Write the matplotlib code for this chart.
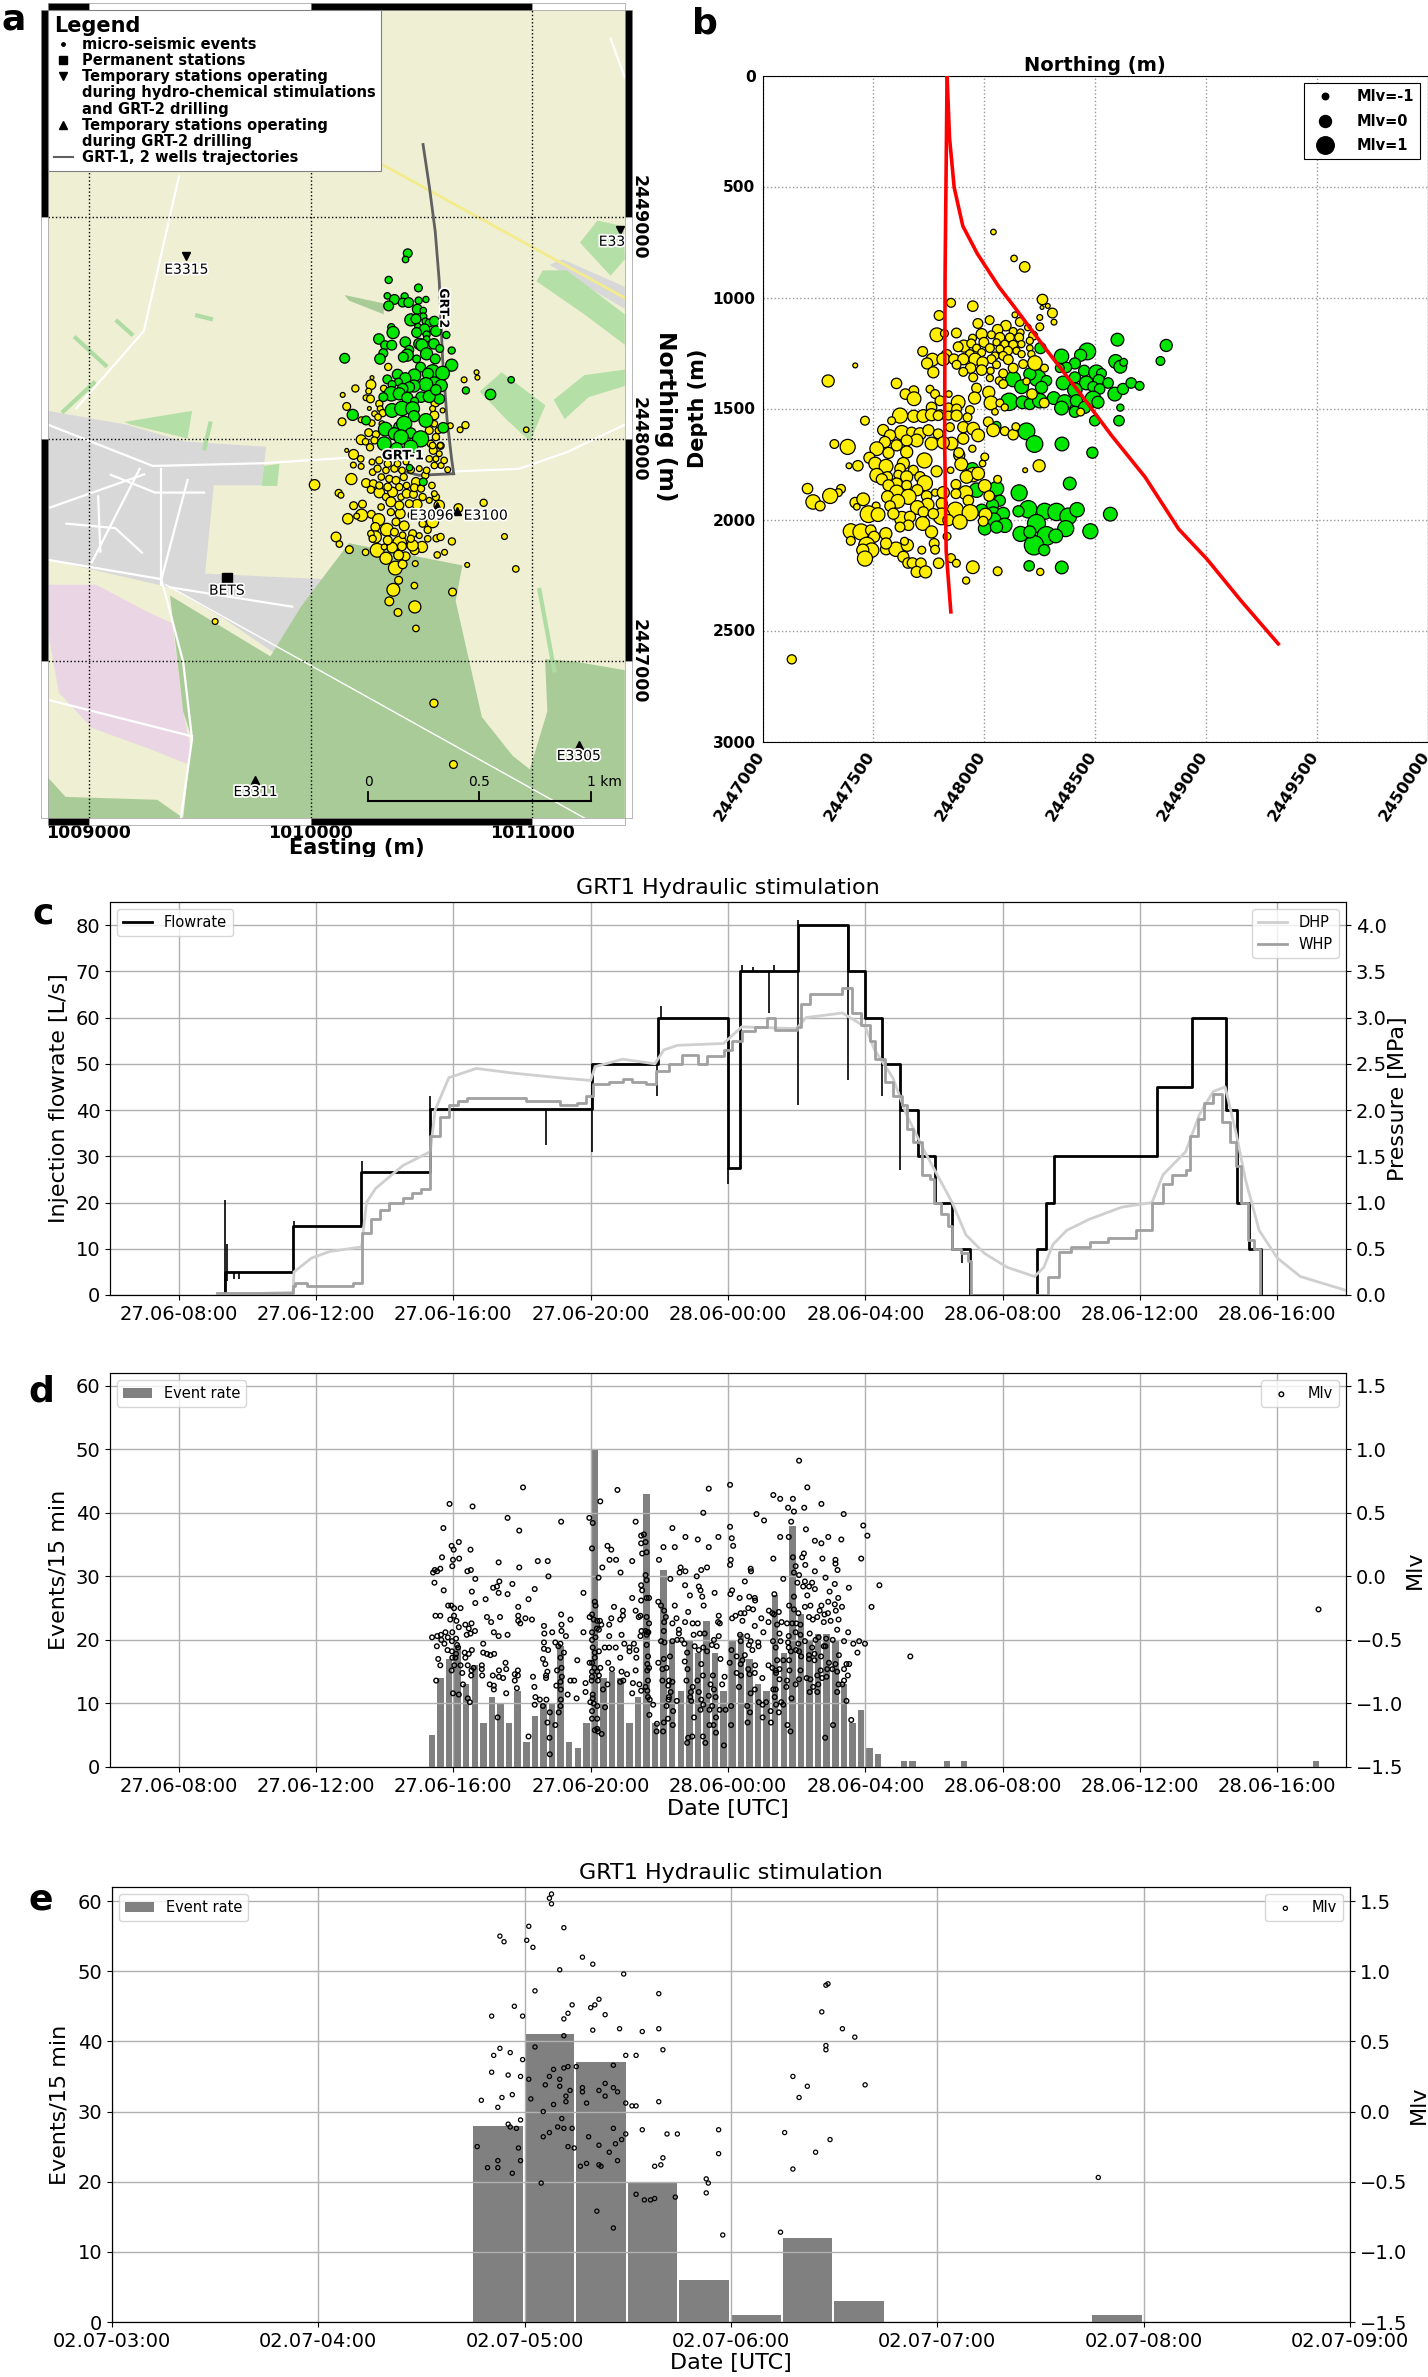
import numpy as np
import matplotlib
matplotlib.use('Agg')
import matplotlib.pyplot as plt
import matplotlib.patheffects as pe
from matplotlib.lines import Line2D
from matplotlib.patches import Polygon, Rectangle
from matplotlib.transforms import ScaledTranslation

W, H = 1428, 2377

# ---- panel a: map features (easting, northing in m)
forest = [(1010173,2447532),(1010684,2447432),(1010654,2447271),(1010772,2446749),(1010910,2446575),(1010988,2446513),
          (1011067,2446774),(1011057,2447010),(1011194,2446998),(1011416,2446960),(1011416,2446294),(1009426,2446294),
          (1009466,2446650),(1009426,2446774),(1009367,2447296),(1009819,2447022),(1009957,2447246)]
forest_sw = [(1008817,2446476),(1008896,2446389),(1009309,2446376),(1009426,2446294),(1008817,2446294)]
forest_n = [(1010153,2448650),(1010330,2448612),(1010330,2448563),(1010173,2448625)]
town = [(1008817,2448128),(1009171,2448066),(1009426,2447991),(1009800,2447966),(1009780,2447793),(1009564,2447793),
        (1009525,2447395),(1010055,2447370),(1009859,2447022),(1009603,2447196),(1009367,2447333),(1008876,2447445),(1008817,2447457)]
town_ne = [(1011077,2448786),(1011416,2448588),(1011416,2448687),(1011136,2448811)]
pink = [(1008817,2447345),(1009033,2447345),(1009269,2447221),(1009377,2447171),(1009426,2446774),(1009475,2446525),
        (1009289,2446600),(1009014,2446700),(1008866,2446860),(1008817,2447134)]
meadows = [
    [(1010762,2448215),(1010861,2448302),(1011058,2448153),(1010989,2447991),(1010881,2448091)],
    [(1011018,2448712),(1011234,2448563),(1011416,2448426),(1011416,2448563),(1011155,2448761),(1011047,2448761)],
    [(1011214,2448886),(1011293,2448985),(1011411,2448960),(1011416,2448811),(1011352,2448737)],
    [(1011096,2448178),(1011234,2448289),(1011416,2448314),(1011416,2448240),(1011253,2448190),(1011145,2448091)],
    [(1009161,2448078),(1009466,2448128),(1009446,2448004),(1009191,2448066)],
    [(1009790,2447880),(1009860,2447890),(1009850,2447790),(1009780,2447790)],
]
strips = [
    [(1008935,2448463),(1009083,2448327)],
    [(1009122,2448538),(1009200,2448468)],
    [(1008880,2448120),(1009030,2448260)],
    [(1009550,2448080),(1009520,2447950)],
    [(1011030,2447330),(1011100,2446950)],
    [(1009560,2448540),(1009480,2448560)],
]
roads = [
    [(1008817,2448066),(1009289,2447880),(1009780,2447892),(1010173,2447917),(1010644,2447855),(1010939,2447867),(1011155,2447942),(1011416,2448066)],
    [(1008817,2447457),(1009328,2447370),(1009426,2446998),(1009466,2446650),(1009416,2446294)],
    [(1008945,2448140),(1009249,2448488),(1009407,2449184)],
    [(1009328,2447867),(1009328,2447345)],
    [(1008827,2446824),(1009466,2446662)],
    [(1011352,2449805),(1011416,2449631)],
    [(1008827,2447693),(1009250,2447842)],
    [(1009043,2447743),(1009053,2447494)],
    [(1009230,2447867),(1009014,2447445)],
    [(1009446,2447817),(1009328,2447370)],
    [(1009367,2447333),(1009917,2447246)],
    [(1009100,2447840),(1009300,2447760),(1009520,2447760)],
    [(1008900,2447620),(1009120,2447600),(1009240,2447490)],
]
road_thin = [(1009348,2447345),(1011234,2446294)]
road_yellow = [(1010330,2449234),(1011416,2448637)]

well_grt2_a = [(1010507,2449328),(1010536,2449134),(1010562,2448935),(1010580,2448712),(1010595,2448364),(1010615,2448091),(1010635,2447917),(1010645,2447845)]
well_grt1_a = [(1010645,2447845),(1010490,2447838),(1010385,2447863)]

bets = (1009623, 2447375)
stations_down = [('E3315', 1009440, 2448824), ('E33', 1011395, 2448945)]
stations_up = [('E3311', 1009752, 2446463), ('E3305', 1011208, 2446625), ('E3100', 1010658, 2447676), ('E3096', 1010572, 2447698)]

# events panel a: east - 1010000, north - 2448000, Mlv
green_a = [(438,838,-.85),(428,810,-1.2),(352,718,-1.1),(486,682,-1),(346,646,-1.2),(378,630,-.7),(424,644,-1.1),(415,616,-.85),
(442,616,-.7),(487,625,-1.1),(520,630,-1.25),(352,601,-.7),(481,586,-.7),(508,580,-1.2),(508,553,-1.1),(452,538,-.35),(475,542,-.7),
(517,532,-1.2),(535,524,-1),(558,532,-.7),(364,505,-1.1),(372,481,-.35),(484,508,-1.2),(514,496,-.6),(478,481,-.7),(565,487,-.6),
(612,470,-1.1),(523,472,-1.1),(308,452,-.6),(427,438,-.6),(523,452,-1.2),(336,424,-.85),(366,424,-.7),(556,430,-.6),(490,430,-.5),
(502,424,-.35),(582,409,-1),(636,400,-1.1),(445,403,-.85),(328,388,-.85),(436,379,-.35),(523,385,-.35),(418,370,-.7),(313,362,-.6),
(154,365,-.7),(562,362,-.7),(478,362,-1),(636,334,-.35),(496,325,-.7),(550,302,.1),(595,298,-.1),(392,292,-.6),(468,288,-.25),
(427,275,-.5),(346,270,-.85),(529,295,-.5),(396,258,-1),(558,250,-.1),(520,247,-.1),(367,247,-1),(589,242,-.35),(466,240,-.35),
(445,235,-.6),(580,182,-.6),(415,228,-.6),(364,205,0),(400,205,-.35),(328,190,-.85),(436,187,-.5),(498,190,-.6),(535,193,-.35),
(565,223,-.6),(469,172,-1),(367,130,-.1),(412,139,0),(460,138,-.1),(466,104,-.5),(190,110,-.5),(250,85,-.85),(520,85,-.1),(337,46,-.1),
(400,55,-.5),(422,70,.1),(378,25,-.35),(452,28,-.6),(408,10,0),(496,2,.25),(332,-20,-.1),(598,52,-.6),(700,220,-1.1),(811,202,-.6),
(904,268,-1.2),(452,-35,-.1),(388,-42,-.35),(446,-128,-1.2),(508,-192,-1)]
yellow_a = [(350,326,-1.1),(692,268,-1.3),(748,302,-1.45),(752,278,-1.45),(277,278,-1.6),(272,246,-.7),(202,229,-1.1),(145,200,-1.45),
(330,229,-1.2),(262,217,-1.3),(250,187,-1.3),(270,182,-1),(163,148,-1),(310,160,-1.1),(314,138,-1.3),(325,118,-1.1),(265,139,-1.6),
(289,115,-1.3),(304,100,-1.2),(228,88,-1.3),(142,79,-1),(276,73,-1.2),(322,70,-1.3),(630,61,-1.3),(674,43,-1.3),(698,64,-1.1),
(558,108,-.85),(562,166,-.85),(595,130,-1.45),(550,138,-1.3),(558,70,-1.2),(535,40,-1),(262,30,-1),(295,22,-1.1),(228,-2,-.7),
(248,-11,-1.2),(268,-36,-1.1),(288,-5,-1.1),(576,40,-1.2),(565,10,-1.1),(586,-29,-1.1),(542,-20,-1.1),(553,-50,-1),
(163,-50,-1.6),(194,-68,-.7),(226,-88,-1.2),(193,-116,-1.3),(228,-122,-1.3),(184,-179,-.5),(127,-242,-1.1),(250,-197,-.85),
(283,-200,-1),(272,-227,-1.1),(310,-240,-.6),(194,-299,-1),(234,-292,-1),(230,-342,-.35),(208,-346,-1.3),(168,-358,-.6),(274,-338,-1),
(307,-362,-.35),(292,-395,-.85),(344,-407,-.25),(115,-440,-.7),(130,-472,-1.2),(292,-440,-.35),(175,-497,-1),(248,-509,-1.2),
(300,-500,-.1),(340,-536,-.35),(382,-580,-.1),(402,-467,-.1),(368,-488,-.6),(415,-563,-.85),(397,-635,-1),(373,-678,-.25),
(468,-659,-1.2),(355,-730,-.85),(470,-755,-.35),(394,-780,-1),(475,-852,-1.2),(640,-688,-1),(472,-560,-1.3),(571,-521,-1.2),
(604,-509,-1.3),(637,-460,-1.1),(568,-446,-1.1),(586,-440,-1.1),(706,-566,-1.45),(874,-438,-1.3),(925,-584,-1.2),(780,-286,-1.1),
(666,-310,-.85),(550,-371,-.35),(528,-408,-1.1),(502,-485,-.5),(469,-500,-.85),(460,-478,-.5),(428,-527,-.85),(412,-482,-.85),
(397,-522,-.7),(332,-485,-1.3),(348,-455,-.85),(272,-425,-1.2),(280,-448,-1.1),(318,-305,-1.2),(362,-328,-1.1),(404,-335,-.7),
(460,-342,-.85),(422,-390,-.7),(385,-372,-1),(505,-380,-1.1),(460,-425,-1),(490,-434,-1.3),(528,-448,-1.2),(378,-418,-1),(415,-432,-1.2),
(452,-448,-1.1),(340,-260,-1.1),(370,-238,-.7),(408,-260,-1.2),(433,-245,-.85),(464,-248,-1),(505,-260,-1.1),(535,-275,-1.3),
(565,-260,-1.1),(580,-298,-.6),(480,-293,-.7),(445,-290,-1),(362,-282,-.7),(400,-298,-.85),(319,-170,-1.2),(355,-178,-1.1),(385,-185,-1),
(420,-170,-1.1),(475,-192,-.85),(517,-162,-1.1),(547,-208,-1.2),(558,-245,-1.3),(310,-208,-1.1),(348,-215,-1),(400,-215,-1.1),
(433,-208,-1.2),(468,-218,-1),(498,-222,-1.1),(280,-148,-1.2),(302,-132,-1.1),(340,-140,-1.2),(378,-132,-1.1),(412,-140,-1.2),
(452,-137,-1.1),(490,-132,-1.3),(523,-140,-1.2),(558,-118,-1.2),(588,-118,-1.3),(618,-137,-1.3),(602,-95,-1.2),(565,-88,-1.3),
(535,-88,-1.2),(580,-65,-1.3),(550,-28,-1.2),(585,-28,-1.3),(348,-110,-1.1),(310,-95,-1.1),(392,-110,-1.2),(430,-102,-1.3),(277,-102,-1.3),
(-430,-821,-1.3),(556,-1189,-.95),(644,-1465,-1),(18,-205,-.6),(137,-252,-1.3),(972,43,-1.35)]

# ---- panel b: north - 2447000, depth, Mlv
yellow_b = [(1182,862,-.6),(1041,705,-1.35),(1134,824,-1.2),(1262,1009,-.6),(1286,1038,-1.45),(1260,1045,-1.6),(1307,1070,-.7),(1250,1090,-1.3),
(1314,1111,-1.3),(1250,1132,-1),(850,1024,-.85),(948,1039,-.6),(796,1081,-.7),(1024,1102,-.85),(971,1117,-.7),(1138,1078,-1.3),(1160,1110,-.85),
(1196,1135,-1.2),(786,1168,-.1),(820,1162,-1),(874,1160,-.7),(1097,1127,-.6),(1060,1145,-.6),(1130,1153,-1),(1163,1158,-1.1),(988,1165,-.5),
(1032,1168,-1),(1070,1180,-.7),(1115,1180,-.85),(1157,1180,-.85),(1220,1172,-.85),(947,1183,-1),(998,1202,-.7),(1055,1202,-1.1),(1092,1210,-1),
(1130,1213,-.85),(1167,1210,-1.1),(1205,1195,-1.1),(908,1219,-.35),(941,1207,-.85),(882,1222,-.7),(965,1228,-1),(1025,1228,-.85),(1070,1232,-1),
(1107,1240,-.85),(1145,1240,-1.1),(1205,1228,-1.2),(722,1243,-.7),(830,1258,-.6),(988,1248,-1),(935,1255,-.85),(1048,1263,-1),(1085,1263,-.85),
(1168,1255,-1.1),(1212,1255,-1.1),(766,1280,-.25),(742,1297,-.5),(815,1278,-.25),(863,1278,-.6),(905,1278,-.5),(958,1278,-.35),(1032,1278,-.85),
(1108,1280,-.7),(1228,1295,0),(1175,1300,-.85),(992,1292,-.5),(875,1303,-.85),(938,1318,-.6),(1055,1303,-1),(1130,1318,-.7),(1271,1318,-1),
(770,1337,-.5),(905,1335,-.85),(988,1327,-.6),(1028,1330,-1.1),(1085,1342,-.85),(950,1360,-.85),(1025,1363,-1.1),(1067,1375,-1),(1085,1390,-.85),
(1190,1378,-1.1),(965,1408,-.7),(296,1376,-.35),(418,1306,-1.45),(604,1387,-.6),(682,1420,-.7),(644,1435,-.6),(683,1456,-.1),(755,1413,-1),
(778,1435,-.85),(800,1465,-.7),(840,1435,-1.2),(882,1472,-.1),(956,1453,-.35),(1020,1427,-.35),(1030,1475,-.1),(1070,1475,-1),(1092,1495,-1.1),
(1215,1435,-.6),(1270,1475,-.7),(1434,1516,-1),(1048,1515,-1.2),(838,1495,-.85),(875,1502,-.7),(935,1507,-.85),(762,1495,-.6),(800,1528,-.7),
(620,1532,.1),(682,1535,-.35),(725,1534,-.25),(762,1528,-.35),(792,1532,-.7),(838,1532,-.85),(875,1532,-.5),(924,1540,-.85),(462,1555,-.85),
(582,1555,-1),(1018,1560,-.7),(544,1597,-.5),(628,1609,0),(672,1606,-.7),(710,1614,-.35),(748,1598,-.5),(792,1614,-.7),(845,1584,-.85),
(905,1584,-.5),(950,1591,-.25),(972,1621,-.25),(1040,1598,-.25),(1092,1602,-.85),(1130,1618,-.6),(1142,1582,-1),(905,1636,-.5),(852,1658,-.25),
(762,1658,-.25),(815,1654,-.35),(695,1644,-.25),(650,1644,-.5),(575,1621,-.5),(552,1651,-.5),(515,1681,-.1),(605,1666,-.5),(650,1696,-.35),
(568,1700,-.5),(324,1660,-.85),(384,1673,.1),(482,1722,-.5),(508,1748,-.25),(390,1758,-1.3),(430,1758,-.6),(557,1760,-.1),(730,1734,.1),
(680,1778,-.7),(635,1748,-.35),(620,1771,-.6),(515,1801,-.1),(563,1808,-.6),(612,1798,-.85),(538,1819,-.5),(650,1808,-.35),(710,1808,-.6),
(785,1783,-.5),(887,1711,-.5),(885,1699,-.7),(946,1681,-1.1),(896,1751,-.25),(848,1778,-1.2),(1002,1718,-1),(992,1748,-1.2),(1247,1758,-.35),
(1184,1778,-1.45),(950,1798,0),(920,1808,-.25),(972,1793,-.25),(872,1842,-.7),(1060,1819,-1),(1002,1849,-.25),(732,1836,.1),(605,1838,-.5),
(568,1846,-.5),(650,1846,-.7),(203,1861,-.6),(354,1862,-.85),(342,1879,-1),(305,1894,.1),(228,1921,0),(260,1939,-.7),(418,1924,-.6),(454,1909,-.25),
(425,1943,-1.2),(605,1876,-.1),(698,1868,-.5),(778,1879,-1.1),(815,1879,-.35),(916,1879,-.1),(872,1884,-.7),(1022,1894,-.6),(564,1898,-.35),
(658,1898,.1),(740,1894,-.6),(610,1918,-.1),(744,1933,-.25),(698,1946,-.1),(808,1928,-.5),(928,1914,-.6),(575,1939,-.6),(512,1939,-1),
(870,1958,.25),(936,1969,.25),(808,1986,.35),(1005,1978,-.25),(478,1976,.35),(521,1978,-.1),(628,1996,0),(665,1988,-.5),(725,1966,-.6),
(770,1974,-.6),(590,1974,-.5),(838,2003,-.5),(890,2011,0),(995,2008,-.7),(722,2018,-.1),(658,2026,-.6),(620,2034,-.7),(762,2056,-.35),
(832,2076,-1),(398,2053,.1),(444,2056,.25),(488,2048,-.6),(556,2064,-.35),(398,2096,-.85),(503,2078,-.5),(470,2116,.25),(492,2138,0),
(452,2138,-.35),(557,2134,-.5),(602,2134,0),(557,2108,-.5),(653,2116,-.35),(640,2098,-1),(718,2138,-1),(774,2108,-.7),(778,2136,-.85),
(462,2176,.1),(635,2168,-.5),(656,2196,-.6),(676,2196,-.6),(714,2197,-.6),(695,2236,-.5),(735,2236,-.35),(794,2197,-.6),(850,2174,-.85),
(874,2197,-1),(948,2215,-.25),(1060,2233,-.85),(918,2275,-1.1),(1252,2236,-1.1),(132,2630,-.8)]
green_b = [(1600,1190,-.25),(1820,1216,-.35),(1794,1286,-.85),(1464,1243,.35),(1434,1260,-.35),(1348,1265,0),(1408,1297,-.5),(1253,1228,-.5),
(1370,1315,-.6),(1340,1318,-.85),(1592,1288,-.1),(1613,1312,-.25),(1628,1292,-1),(1450,1330,-.5),(1505,1338,.1),(1528,1342,-.7),(1240,1363,.35),
(1130,1368,.1),(1168,1402,-.1),(1205,1345,-.35),(1280,1375,-.6),(1258,1405,-.35),(1355,1385,-.1),(1408,1360,-.5),(1460,1385,-.1),(1516,1372,-.5),
(1558,1385,-.6),(1490,1402,-.6),(1408,1417,0),(1520,1412,-.6),(1588,1435,-.1),(1625,1412,-.5),(1662,1385,-.6),(1700,1398,-.85),(1112,1470,.45),
(1172,1472,-.25),(1205,1480,-.5),(1250,1465,0),(1313,1453,-.25),(1362,1472,.1),(1348,1498,-.1),(1415,1465,-.35),(1408,1515,-.5),(1490,1458,.25),
(1452,1495,-.35),(1512,1472,-.35),(1613,1496,-1.1),(1607,1555,-.6),(1498,1555,-.6),(1055,1578,-.85),(1190,1603,.35),(1226,1660,.35),(1350,1660,-.1),
(1487,1699,-.5),(946,1771,-.35),(1385,1838,-.25),(1055,1861,0),(965,1868,0),(1157,1880,.25),(1070,1915,-.5),(1198,1954,.45),(1272,1963,.25),
(1325,1966,.45),(1378,1986,.35),(1418,1956,0),(1568,1976,-.1),(1154,1963,-.5),(1037,1936,-.35),(988,1958,-.35),(1040,1974,-.1),(1085,1974,-.25),
(1043,2003,0),(1092,2026,0),(1002,2041,-.25),(1055,2034,-.35),(1235,2018,.55),(1367,2041,.25),(1163,2065,.1),(1478,2053,.1),(1280,2074,.65),
(1322,2074,-.1),(1224,2116,.75),(1270,2138,-.5),(1202,2209,-.6),(1349,2216,-.25),(1205,2056,-.35)]
well_1_north = [2447832,2447823,2447821,2447828,2447849]
well_1_depth = [0,900,1646,2143,2416]
well_2_north = [2447832,2447843,2447864,2447903,2447968,2448065,2448141,2448271,2448444,2448573,2448724,2448876,2449005,2449157,2449325]
well_2_depth = [0,280,504,678,802,951,1050,1224,1448,1621,1808,2043,2180,2366,2560]

# ---- panel c: hours since 27.06 00:00
flow_t = [9.36,11.33,13.3,15.33,20.05,21.95,24.0,24.35,26.03,27.5,28.0,28.5,29.0,29.52,30.03,30.53,31.04,32.99,33.25,33.5,36.5,37.52,38.5,38.83,39.17,39.52]
flow_v = [5,15,26.5,40.2,50,60,27.5,70,80,70,60,50,40,30,20,10,0,10,20,30,45,60,40,20,10,0]
spike_t = [9.36,9.42,9.6,9.75,11.35,13.33,15.33,18.7,20.05,22.05,21.93,24.0,24.4,24.73,25.2,25.35,26.05,26.05,27.5,28.5,29.0,30.83]
spike_lo = [0,3,3.5,3.5,15,26.5,40,32.5,31,60,43,24,70,70,61,70,41,80,46.5,43,27,7]
spike_hi = [20.5,11,5,5,16,29,43,40,50,62.5,50,27.5,71.3,71,70,71.3,70,81,80,50,40,10]
whp_t = [9.12,11.33,11.4,11.73,12.13,13.07,13.33,13.6,13.87,14.13,14.53,14.8,15.07,15.33,15.6,15.87,16.13,16.4,18.13,19.12,19.6,19.87,20.08,20.53,20.93,21.2,
         21.6,21.9,22.27,22.67,23.12,23.39,23.87,24.13,24.4,24.8,25.15,25.36,26.0,26.13,26.4,27.33,27.6,27.87,28.13,28.27,28.56,28.8,29.07,29.2,29.39,29.65,29.87,
         30.0,30.19,30.4,30.53,30.8,30.99,31.07,33.33,33.65,34.0,34.53,35.07,35.87,36.35,36.67,36.93,37.33,37.47,37.68,37.87,38.13,38.4,38.61,38.8,38.93,39.15,39.33,39.49]
whp_p = [0.02,0.1,0.125,0.1,0.1,0.125,.67,.82,.92,1.0,1.05,1.1,1.15,1.72,1.92,2.05,2.1,2.13,2.1,2.05,2.08,2.15,2.28,2.3,2.34,2.3,
         2.28,2.42,2.5,2.6,2.5,2.58,2.65,2.75,2.85,2.9,3.0,2.87,2.9,3.15,3.25,3.32,3.05,2.92,2.75,2.55,2.3,2.15,2.05,1.8,1.65,1.3,1.25,
         1.0,.88,.75,.5,.45,.37,0,.2,.47,.52,.57,.62,.7,1.0,1.2,1.3,1.35,1.72,1.9,2.08,2.17,1.87,1.65,1.4,1.0,.6,.5,0]
dhp_t = [9.12,11.33,11.36,11.87,12.4,13.33,13.47,13.73,14.53,15.33,15.47,15.87,16.67,17.73,19.07,20,20.13,20.93,21.87,22.13,22.53,23.87,24.4,26.0,26.27,27.33,28,
         28.27,28.8,29.2,29.73,30.53,30.93,31.47,32.13,32.93,33.2,33.47,33.87,34.53,35.47,36.35,36.67,37.33,37.73,38.13,38.48,38.8,39.07,39.47,40,40.67,42]
dhp_p = [0,.03,.25,.4,.47,.52,1.0,1.15,1.4,1.55,2.0,2.35,2.45,2.4,2.35,2.32,2.47,2.55,2.5,2.65,2.7,2.72,2.9,2.88,3.0,3.05,2.9,
         2.65,2.35,1.95,1.55,1.0,.65,.45,.3,.2,.3,.55,.7,.82,.95,1.0,1.3,1.55,1.95,2.2,2.25,1.75,1.25,.7,.4,.2,.05]
hour_ticks = [8,12,16,20,24,28,32,36,40]
hour_labels = ['27.06-08:00','27.06-12:00','27.06-16:00','27.06-20:00','28.06-00:00','28.06-04:00','28.06-08:00','28.06-12:00','28.06-16:00']

# ---- panel d: 15 min event counts and Mlv
rate_d_t = list(np.arange(15.375, 28.5, 0.25)) + [29.125,29.375,30.375,30.875,41.125]
rate_d = [5,14,17,19,13,16,7,11,10,7,12,4,8,10,10,19,4,3,7,50,14,15,14,7,11,
          43,7,31,20,12,20,18,23,18,12,20,21,17,13,12,27,18,38,24,20,21,21,20,13,7,9,3,2,1,1,1,1,1]
mlv_d = [(15.89,.57),(16.56,.55),(18.03,.7),(15.71,.38),(17.58,.46),(17.92,.36),(19.14,.43),(19.96,.46),(20.06,.42),(20.28,.59),(20.78,.68),(21.31,.43),
(16.16,.27),(15.95,.24),(16.01,.21),(16.5,.21),(20.04,.22),(20.49,.24),(20.6,.21),(15.67,.15),(15.99,.13),(16.17,.14),(17.32,.11),(18.46,.12),(18.75,.12),
(20.55,.13),(20.74,.13),(21.21,.12),(15.97,.08),(17.92,.07),(20.34,.07),(15.62,.06),(15.46,.05),(15.53,.04),(15.41,.03),(16.41,.04),(16.51,.05),(20.87,.03),
(18.77,0),(16.64,-.02),(20.23,-.01),(15.45,-.05),(17.34,-.04),(17.27,-.08),(17.16,-.09),(17.72,-.06),(18.37,-.1),(15.72,-.11),(16.54,-.12),(17.32,-.13),
(17.58,-.14),(19.79,-.13),(16.94,-.18),(18.19,-.18),(21.21,-.17),(16.64,-.21),(20.12,-.2),(15.85,-.23),(15.94,-.23),(16.02,-.25),(16.21,-.25),(17.89,-.24),
(20.14,-.23),(20.68,-.24),(20.94,-.27),(21.31,-.27),(15.48,-.31),(15.62,-.31),(16.02,-.31),(19.14,-.3),(20.04,-.3),(19.97,-.32),(20.94,-.31),(16.98,-.32),
(17.36,-.32),(17.89,-.31),(17.89,-.35),(18.1,-.33),(18.29,-.34),(19.41,-.34),(20.6,-.33),(21.4,-.32),(15.91,-.34),(16.09,-.35),(17.1,-.36),(17.95,-.37),
(20.09,-.34),(20.19,-.35),(20.31,-.38),(20.27,-.35),(19.15,-.38),(18.64,-.39),(20.54,-.38),(20.86,-.34),(16.16,-.4),(16.35,-.38),(16.53,-.37),(16.45,-.41),
(16.63,-.43),(16.5,-.45),(16.39,-.46),(17.18,-.44),(17.32,-.47),(17.58,-.46),(18.65,-.45),(18.88,-.44),(19.15,-.43),(19.28,-.47),(19.79,-.44),(20.04,-.44),
(20.24,-.42),(20.18,-.41),(20.9,-.46),(20.54,-.47),(15.38,-.48),(15.53,-.47),(15.64,-.46),(15.77,-.44),(15.97,-.44),(15.84,-.48),(16.08,-.49),(20.14,-.48),
(15.65,-.5),(15.74,-.53),(15.96,-.51),(16.11,-.54),(16.87,-.53),(18.64,-.52),(18.97,-.52),(19.12,-.53),(20.04,-.5),(21.26,-.53),(20.98,-.53),(15.52,-.55),
(16.14,-.56),(15.83,-.58),(15.96,-.59),(16.54,-.58),(18.64,-.57),(18.76,-.58),(19.06,-.55),(20.06,-.56),(20.41,-.56),(20.54,-.56),(20.73,-.56),(21.13,-.56),
(21.33,-.58),(21.13,-.59),(16.33,-.6),(16.87,-.6),(16.98,-.61),(17.08,-.62),(17.19,-.61),(16.45,-.61),(16.08,-.61),(19.22,-.6),(20.12,-.6),(20.24,-.59),
(16.06,-.64),(16.35,-.64),(15.97,-.64),(19.12,-.64),(18.61,-.65),(19.61,-.66),(20.12,-.64),(20.04,-.68),(20.86,-.64),(21.33,-.64),(15.56,-.65),(18.68,-.69),
(19.97,-.68),(20.51,-.68),(17.52,-.68),(15.62,-.7),(16.03,-.7),(16.21,-.7),(16.42,-.7),(16.59,-.72),(16.83,-.7),(16.83,-.73),(17.54,-.73),(19.15,-.72),
(20.11,-.72),(20.28,-.72),(20.62,-.73),(21.31,-.74),(16.53,-.74),(15.95,-.74),(16.26,-.76),(17.88,-.74),(19.02,-.74),(18.74,-.75),(20.04,-.75),(20.19,-.75),
(17.33,-.74),(16.84,-.78),(17.79,-.77),(17.15,-.78),(17.88,-.78),(16.52,-.78),(18.7,-.78),(20.9,-.75),(21.06,-.77),(20.04,-.79),(20.24,-.78),(19.16,-.79),
(18.32,-.79),(18.7,-.8),(17.33,-.79),(17.45,-.8),(15.5,-.82),(20.95,-.82),(17.79,-.82),(19.41,-.82),(19.52,-.82),(19.12,-.83),(20.03,-.82),(20.21,-.82),
(20.86,-.83),(21.23,-.84),(16.28,-.85),(17.06,-.85),(20.49,-.85),(19.85,-.84),(17.18,-.86),(19.0,-.86),(18.36,-.87),(17.85,-.88),(17.18,-.89),(19.13,-.89),
(20.36,-.89),(19.85,-.91),(15.99,-.92),(16.16,-.93),(17.54,-.92),(19.33,-.93),(20.06,-.93),(21.21,-.92),(18.39,-.95),(18.52,-.97),(18.71,-.97),(16.42,-.96),
(19.13,-.97),(19.59,-.96),(20.06,-.96),(16.48,-.99),(19.99,-.99),(20.09,-1.0),(18.37,-1.01),(18.61,-1.02),(19.12,-1.02),(20.19,-1.02),(20.42,-1.03),
(20.04,-1.06),(19.07,-1.07),(18.81,-1.07),(17.29,-1.11),(20.04,-1.12),(20.19,-1.12),(18.74,-1.15),(18.97,-1.17),(20.19,-1.2),(20.12,-1.21),(20.21,-1.22),
(20.32,-1.24),(18.19,-1.26),(18.8,-1.27),(18.81,-1.4),
(21.47,.32),(21.47,.26),(21.5,.18),(21.47,-.07),(21.5,-.11),(21.47,-.19),(21.45,-.31),(21.48,-.43),(21.45,-.47),(21.42,-.85),(21.47,-.9),
(21.55,.33),(21.6,.27),(21.63,.19),(21.6,.01),(21.63,-.03),(21.63,-.17),(21.7,-.17),(21.63,-.32),(21.7,-.37),(21.65,-.44),(21.6,-.43),(21.63,-.46),(21.63,-.54),
(21.67,-.63),(21.65,-.69),(21.7,-.72),(21.65,-.74),(21.67,-.82),(21.6,-.87),(21.65,-.9),(21.67,-.95),(21.72,-.97),
(26.07,.91),(24.06,.72),(23.44,.69),(26.31,.7),(25.32,.64),(25.52,.61),(25.89,.61),(26.72,.57),(25.75,.54),(26.22,.54),(25.92,.51),(23.28,.5),(24.83,.49),
(27.37,.49),(25.05,.44),(25.84,.43),(27.94,.4),(24.06,.39),(22.38,.38),(26.27,.37),(28.06,.32),(22.76,.31),(23.72,.31),(25.52,.31),(25.77,.31),(26.92,.31),
(23.12,.29),(24.11,.3),(27.3,.29),(26.53,.28),(26.72,.26),(24.15,.24),(22.12,.23),(22.45,.23),(23.44,.23),(26.21,.18),(26.16,.15),(21.99,.13),(24.08,.13),
(25.32,.14),(25.89,.15),(26.75,.14),(27.13,.13),(27.88,.14),(24.06,.09),(26.25,.09),(27.13,.1),(25.97,.08),(22.62,.07),(23.39,.07),(23.22,.05),(24.66,.06),
(22.59,.03),(22.76,.04),(24.67,.04),(26.53,.04),(27.19,.05),(25.92,.03),(23.09,0),(26.07,.01),(26.84,-.01),(22.32,-.02),(25.61,-.02),(24.49,-.04),(26.02,-.05),
(26.24,-.04),(26.45,-.05),(27.11,-.06),(28.41,-.07),(22.75,-.07),(23.15,-.08),(26.19,-.08),(26.36,-.08),(27.52,-.09),(23.2,-.11),(24.12,-.11),(26.53,-.1),
(26.96,-.12),(23.61,-.13),(24.07,-.14),(22.89,-.15),(23.25,-.16),(25.35,-.14),(26.31,-.15),(25.92,-.16),(24.34,-.17),(24.62,-.16),(24.78,-.17),(27.21,-.17),
(24.79,-.19),(26.92,-.2),(21.97,-.2),(22.05,-.23),(22.45,-.23),(23.29,-.23),(25.78,-.23),(26.24,-.24),(26.4,-.23),(26.72,-.23),(27.11,-.22),(27.32,-.24),
(28.18,-.24),(24.59,-.25),(24.73,-.26),(25.92,-.26),(22.14,-.27),(22.84,-.28),(25.19,-.27),(25.48,-.28),(26.05,-.29),(26.67,-.27),(27.14,-.27),(23.73,-.31),
(24.22,-.31),(24.37,-.29),(24.48,-.29),(25.29,-.29),(25.34,-.3),(26.91,-.29),(26.81,-.3),(22.19,-.32),(22.5,-.33),(24.12,-.33),(24.97,-.33),(26.36,-.32),
(26.6,-.32),(27.22,-.34),(26.47,-.34),(22.14,-.36),(22.38,-.37),(22.75,-.36),(22.97,-.37),(23.12,-.37),(23.71,-.36),(23.76,-.37),(24.42,-.35),(25.18,-.36),
(25.72,-.37),(25.87,-.37),(25.99,-.37),(26.79,-.36),(26.99,-.35),(25.43,-.38),(25.56,-.36),(24.78,-.39),(26.11,-.38),(22.57,-.42),(25.03,-.44),(25.97,-.44),
(27.18,-.42),(27.5,-.44),(22.13,-.43),(22.57,-.45),(23.0,-.46),(23.18,-.45),(23.32,-.45),(23.73,-.47),(24.35,-.46),(24.56,-.47),(25.5,-.45),(25.77,-.47),
(26.11,-.46),(26.38,-.45),(26.64,-.48),(26.86,-.49),(21.68,-.44),(22.52,-.5),(22.65,-.5),(22.38,-.51),(23.59,-.5),(24.37,-.51),(24.66,-.51),(25.31,-.51),
(25.53,-.51),(26.24,-.51),(26.55,-.5),(27.05,-.5),(27.38,-.51),(27.82,-.51),(27.99,-.53),(27.65,-.53),(25.75,-.52),(26.05,-.53),(22.05,-.51),(22.15,-.52),
(22.73,-.53),(23.53,-.54),(23.03,-.55),(23.67,-.55),(24.88,-.52),(24.89,-.55),(24.61,-.54),(25.77,-.56),(26.45,-.56),(26.79,-.55),(26.84,-.55),(23.28,-.56),
(24.1,-.58),(24.71,-.58),(25.39,-.56),(25.83,-.59),(25.98,-.58),(26.07,-.59),(26.36,-.62),(26.52,-.61),(22.81,-.6),(23.15,-.58),(23.39,-.59),(27.77,-.6),
(27.23,-.62),(22.31,-.63),(24.25,-.63),(24.49,-.62),(26.13,-.63),(26.71,-.63),(22.13,-.65),(23.78,-.65),(24.42,-.66),(25.43,-.66),(25.61,-.66),(25.78,-.66),
(26.36,-.65),(26.52,-.66),(26.94,-.68),(21.97,-.68),(22.74,-.67),(23.22,-.69),(24.05,-.68),(24.37,-.69),(25.18,-.7),(25.29,-.72),(24.79,-.7),(27.13,-.69),
(27.45,-.69),(27.53,-.69),(26.11,-.74),(22.21,-.72),(22.09,-.73),(22.82,-.73),(24.59,-.73),(25.39,-.74),(25.5,-.73),(25.79,-.74),(26.7,-.74),(26.89,-.73),
(27.04,-.73),(27.38,-.73),(24.25,-.76),(24.63,-.77),(24.78,-.76),(24.38,-.78),(25.4,-.76),(27.18,-.75),(27.49,-.78),(23.27,-.78),(23.56,-.78),(26.6,-.78),
(26.87,-.79),(25.0,-.8),(26.07,-.81),(25.5,-.81),(25.72,-.82),(26.29,-.8),(26.4,-.81),(26.74,-.8),(22.09,-.82),(22.38,-.83),(22.28,-.82),(22.79,-.82),
(23.11,-.82),(23.9,-.79),(23.83,-.85),(25.97,-.85),(27.38,-.82),(27.33,-.85),(27.22,-.85),(22.26,-.86),(24.32,-.87),(22.97,-.87),(23.49,-.85),(25.7,-.87),
(26.48,-.87),(26.63,-.85),(25.32,-.89),(25.39,-.89),(24.78,-.89),(22.33,-.91),(22.92,-.91),(23.59,-.89),(23.15,-.91),(24.66,-.92),(26.38,-.91),(26.6,-.91),
(27.18,-.91),(23.44,-.94),(22.9,-.95),(23.64,-.95),(22.28,-.95),(25.85,-.96),(25.36,-.95),(23.22,-.97),(22.27,-.97),(22.51,-.98),(22.93,-.98),(27.45,-.98),
(24.9,-.99),(25.11,-.99),(21.82,-1.01),(25.55,-.99),(25.01,-1.01),(23.28,-1.01),(22.21,-1.02),(24.09,-1.02),(25.4,-1.01),(25.61,-1.01),(24.56,-1.02),
(23.54,-1.02),(23.76,-1.05),(23.93,-1.05),(25.24,-1.06),(24.64,-1.07),(25.48,-1.07),(22.4,-1.06),(23.2,-1.05),(23.46,-1.05),(21.71,-1.09),(25.01,-1.11),
(23.65,-1.11),(23.01,-1.11),(22.25,-1.12),(22.13,-1.15),(24.57,-1.15),(25.25,-1.15),(21.93,-1.16),(25.73,-1.17),(27.59,-1.13),(22.39,-1.17),(23.46,-1.17),
(23.58,-1.17),(24.09,-1.17),(27.06,-1.17),(21.92,-1.22),(22.11,-1.22),(23.65,-1.23),(25.82,-1.22),(23.27,-1.26),(26.83,-1.27),(22.84,-1.27),(22.96,-1.26),
(22.81,-1.31),(23.34,-1.31),(23.88,-1.33),(29.31,-.63),(41.2,-.26)]

# ---- panel e: hours on 02.07
rate_e_t = [4.75,5.0,5.25,5.5,5.75,6.0,6.25,6.5,7.75]
rate_e = [28,41,37,20,6,1,12,3,1]
mlv_e = [(5.13,1.55),(5.12,1.52),(5.13,1.48),(5.02,1.32),(5.19,1.31),(4.88,1.25),(4.9,1.21),(5.01,1.22),(5.04,1.17),(5.28,1.1),(5.33,1.05),(5.17,1.01),(5.48,.98),
(5.05,.86),(5.65,.84),(6.47,.91),(6.46,.9),(5.36,.8),(5.23,.76),(5.34,.76),(5.32,.74),(4.95,.75),(6.44,.71),(4.84,.68),(4.99,.68),(5.21,.7),(5.39,.69),(5.19,.66),
(5.33,.58),(5.46,.59),(5.57,.57),(5.65,.59),(6.54,.59),(5.19,.54),(6.6,.53),(4.88,.45),(5.05,.46),(6.46,.47),(6.46,.44),(5.67,.44),(4.85,.4),(4.93,.42),(5.49,.4),
(5.54,.4),(4.99,.37),(5.14,.3),(5.19,.31),(5.21,.32),(5.25,.32),(5.43,.33),(4.84,.28),(4.92,.26),(4.98,.25),(5.12,.25),(6.3,.25),(5.02,.23),(5.17,.23),(5.1,.19),
(5.17,.18),(5.39,.2),(6.65,.19),(6.37,.18),(5.28,.17),(5.28,.14),(5.36,.15),(5.43,.17),(5.45,.14),(5.22,.15),(5.39,.11),(5.2,.11),(4.94,.12),(4.89,.1),(6.33,.1),
(4.79,.08),(5.2,.07),(5.03,.09),(5.65,.07),(5.3,.06),(5.14,.05),(4.87,.03),(5.49,.06),(5.52,.04),(5.54,.04),(5.09,0),(4.98,-.06),(5.18,-.05),(4.92,-.09),(4.93,-.11),
(4.96,-.12),(5.16,-.11),(5.19,-.12),(5.23,-.12),(5.43,-.12),(5.94,-.13),(5.57,-.13),(6.26,-.15),(5.12,-.15),(5.49,-.16),(5.69,-.16),(5.74,-.16),(5.09,-.18),(5.31,-.18),
(5.47,-.2),(6.48,-.2),(4.77,-.25),(4.97,-.26),(5.21,-.25),(5.24,-.26),(5.36,-.24),(5.44,-.23),(5.41,-.29),(6.41,-.29),(5.94,-.3),(5.67,-.33),(5.45,-.35),(4.87,-.35),
(4.98,-.35),(5.3,-.37),(5.66,-.38),(5.36,-.38),(5.63,-.39),(5.27,-.39),(5.37,-.39),(4.82,-.4),(4.87,-.4),(6.3,-.41),(4.94,-.44),(7.78,-.47),(5.88,-.48),(5.89,-.51),
(5.08,-.51),(5.88,-.58),(5.54,-.59),(5.58,-.63),(5.61,-.63),(5.63,-.62),(5.73,-.61),(5.35,-.71),(5.43,-.83),(6.24,-.86),(5.96,-.88)]
e_ticks = [3,4,5,6,7,8,9]
e_labels = ['02.07-03:00','02.07-04:00','02.07-05:00','02.07-06:00','02.07-07:00','02.07-08:00','02.07-09:00']

east_ticks = [1009000,1010000,1011000]
north_ticks = [2447000,2448000,2449000]
north_b_ticks = [2447000,2447500,2448000,2448500,2449000,2449500,2450000]
depth_ticks = [0,500,1000,1500,2000,2500,3000]

YELLOW, GREEN = '#ffee00', '#00e600'
BAR = '#808080'

fig = plt.figure(figsize=(W/100, H/100), dpi=100)


def axes_px(l, t, r, b):
    return fig.add_axes([l/W, 1-b/H, (r-l)/W, (b-t)/H])


def bubble(m):
    # marker area from magnitude
    return (1.2*0.72*(12+5.5*np.asarray(m)))**2


# ---------- a: map
ax = axes_px(48, 10, 625, 818)
xl = (1008817, 1011417)
yl = (2446294, 2449934)
ax.set_xlim(xl)
ax.set_ylim(yl)
ax.set_facecolor('#eeefd3')
for poly, col in [(town, '#d9d8d8'), (town_ne, '#d9d8d8'), (pink, '#e9d5e4'), (forest, '#a9cb97'), (forest_sw, '#a9cb97'), (forest_n, '#a9cb97')]:
    ax.add_patch(Polygon(poly, closed=True, fc=col, ec='none', zorder=1))
for poly in meadows:
    ax.add_patch(Polygon(poly, closed=True, fc='#b4dfa6', ec='none', zorder=1.2))
for s in strips:
    ax.plot(*zip(*s), color='#aedca3', lw=3, solid_capstyle='butt', zorder=1.3)
for r in roads:
    ax.plot(*zip(*r), color='white', lw=1.6, zorder=2)
ax.plot(*zip(*road_thin), color='white', lw=1.0, zorder=2)
ax.plot(*zip(*road_yellow), color='#f3ec8c', lw=2, zorder=2)

ax.grid(True, color='black', ls=':', lw=1.0, zorder=3)
ax.set_axisbelow(False)
for s in ax.spines.values():
    s.set_visible(False)
ax.set_xticks(east_ticks)
ax.set_xticklabels([str(v) for v in east_ticks], fontweight='bold', fontsize=12.5)
ax.set_yticks(north_ticks)
ax.set_yticklabels([str(v) for v in north_ticks], fontweight='bold', fontsize=12.5, rotation=270, va='center')
ax.tick_params(axis='x', length=0, pad=4)
ax.tick_params(axis='y', length=0, pad=3, left=False, labelleft=False, right=True, labelright=True)

ax.plot(*zip(*well_grt2_a), color='#606060', lw=2, zorder=4)
ax.plot(*zip(*well_grt1_a), color='#606060', lw=2, zorder=4)

ya = np.array(yellow_a).T
ga = np.array(green_a).T
ax.scatter(1010000+ya[0], 2448000+ya[1], s=bubble(ya[2]), c=YELLOW, edgecolors='black', linewidths=0.9, zorder=5)
ax.scatter(1010000+ga[0], 2448000+ga[1], s=bubble(ga[2]), c=GREEN, edgecolors='black', linewidths=0.9, zorder=6)

halo = [pe.withStroke(linewidth=2.5, foreground='white')]
ax.plot(*bets, marker='s', ms=7, color='black', zorder=7)
ax.text(bets[0], bets[1]-57, 'BETS', ha='center', va='center', fontsize=10, path_effects=halo, zorder=8)
for name, e, n in stations_down:
    ax.plot(e, n, marker='v', ms=6, color='black', zorder=7)
    if name == 'E33':
        ax.text(e+22, n-55, name, ha='right', va='center', fontsize=10, path_effects=halo, zorder=8)
    else:
        ax.text(e, n-60, name, ha='center', va='center', fontsize=10, path_effects=halo, zorder=8)
for name, e, n in stations_up:
    ax.plot(e, n, marker='^', ms=6, color='black', zorder=7)
    if name == 'E3096':
        ax.text(e+72, n-42, name, ha='right', va='center', fontsize=10, path_effects=halo, zorder=8)
    elif name == 'E3100':
        ax.text(e+32, n-20, name, ha='left', va='center', fontsize=10, path_effects=halo, zorder=8)
    else:
        ax.text(e, n-52, name, ha='center', va='center', fontsize=10, path_effects=halo, zorder=8)
ax.text(1010600, 2448590, 'GRT-2', rotation=270, ha='center', va='center', fontweight='bold', fontsize=9, path_effects=halo, zorder=8)
ax.text(1010417, 2447925, 'GRT-1', ha='center', va='center', fontweight='bold', fontsize=9.5, path_effects=halo, zorder=8)

# scale bar
ax.plot([1010261, 1011263], [2446369, 2446369], color='black', lw=1.5, zorder=8)
for e, lab in zip([1010261, 1010761, 1011263], ['0', '0.5', '1 km']):
    ax.plot([e, e], [2446369, 2446410], color='black', lw=1.3, zorder=8)
    ax.text(e if lab != '1 km' else e+60, 2446425, lab, ha='center', va='bottom', fontsize=10, zorder=8)

# fancy frame
dx, dy = 30, 30
x_edges = [xl[0], 1009000, 1010000, 1011000, xl[1]]
y_edges = [yl[1], 2449000, 2448000, 2447000, yl[0]]
for i in range(4):
    col = 'black' if i % 2 == 0 else 'white'
    for y0 in (yl[1], yl[0]-dy):
        ax.add_patch(Rectangle((x_edges[i], y0), x_edges[i+1]-x_edges[i], dy, fc=col, ec='#808080', lw=0.4, clip_on=False, zorder=9))
    for x0 in (xl[0]-dx, xl[1]):
        ax.add_patch(Rectangle((x0, y_edges[i+1]), dx, y_edges[i]-y_edges[i+1], fc=col, ec='#808080', lw=0.4, clip_on=False, zorder=9))

no_mark = Line2D([], [], ls='none')
leg_handles = [
    Line2D([], [], ls='none', marker='o', ms=2.5, color='black'),
    Line2D([], [], ls='none', marker='s', ms=6, color='black'),
    Line2D([], [], ls='none', marker='v', ms=6, color='black'),
    no_mark, no_mark,
    Line2D([], [], ls='none', marker='^', ms=6, color='black'),
    no_mark,
    Line2D([], [], color='#606060', lw=1.5),
]
leg_labels = ['micro-seismic events', 'Permanent stations',
              'Temporary stations operating', 'during hydro-chemical stimulations', 'and GRT-2 drilling',
              'Temporary stations operating', 'during GRT-2 drilling', 'GRT-1, 2 wells trajectories']
leg = ax.legend(leg_handles, leg_labels, loc='upper left', bbox_to_anchor=(0, 1), borderaxespad=0,
                title='Legend', alignment='left', fancybox=False, framealpha=1, edgecolor='#808080',
                prop={'weight': 'bold', 'size': 10.5}, title_fontproperties={'weight': 'bold', 'size': 15},
                labelspacing=0.08, handlelength=1.3, handletextpad=0.6, borderpad=0.4)
leg.set_zorder(20)
leg.get_frame().set_linewidth(0.8)

fig.text(357/W, 1-848/H, 'Easting (m)', ha='center', va='center', fontweight='bold', fontsize=15)
fig.text(665/W, 1-416/H, 'Northing (m)', ha='center', va='center', rotation=270, fontweight='bold', fontsize=16.8)
fig.add_artist(Rectangle((0, 1-872/H), 700/W, 15/H, transform=fig.transFigure, fc='white', ec='none', zorder=10))

# ---------- b: depth section
ax = axes_px(762.5, 75.5, 1428, 741.5)
ax.set_xlim(2447000, 2450000)
ax.set_ylim(3000, 0)
yb = np.array(yellow_b).T
gb = np.array(green_b).T
ax.scatter(2447000+gb[0], gb[1], s=bubble(gb[2]), c=GREEN, edgecolors='black', linewidths=0.9, zorder=3)
ax.scatter(2447000+yb[0], yb[1], s=bubble(yb[2]), c=YELLOW, edgecolors='black', linewidths=0.9, zorder=4)
ax.plot(well_1_north, well_1_depth, color='red', lw=2.6, zorder=5)
ax.plot(well_2_north, well_2_depth, color='red', lw=2.6, zorder=5)
ax.grid(True, color='#999999', ls=':', lw=1)
ax.set_axisbelow(True)
ax.set_xticks(north_b_ticks)
ax.set_xticklabels([str(v) for v in north_b_ticks], rotation=57, ha='right', rotation_mode='anchor', fontweight='bold', fontsize=11.8)
ax.set_yticks(depth_ticks)
ax.set_yticklabels([str(v) for v in depth_ticks], fontweight='bold', fontsize=11.2)
ax.tick_params(length=0, pad=5)
# nudge the rotated labels left so the last one stays on the page
shift = ScaledTranslation(-8/100, 0, fig.dpi_scale_trans)
for lab in ax.get_xticklabels():
    lab.set_transform(lab.get_transform()+shift)
ax.set_ylabel('Depth (m)', fontweight='bold', fontsize=15, labelpad=3)
ax.set_title('Northing (m)', fontweight='bold', fontsize=14, pad=3)
for s in ax.spines.values():
    s.set_linewidth(0.8)
handles_b = [Line2D([], [], ls='none', marker='o', color='black', ms=0.72*(12+5.5*m), label='Mlv=%d' % m) for m in (-1, 0, 1)]
leg = ax.legend(handles=handles_b, loc='upper right', fancybox=False, framealpha=1, edgecolor='black',
                prop={'weight': 'bold', 'size': 10.5}, labelspacing=0.65, handletextpad=1.2, bbox_to_anchor=(0.988, 0.988), borderaxespad=0)
leg.get_frame().set_linewidth(0.8)

TICK = 14
LAB = 16


def style_time(ax, ticks, labels):
    ax.set_xticks(ticks)
    ax.set_xticklabels(labels, fontsize=TICK)
    ax.tick_params(axis='y', labelsize=TICK)
    ax.grid(True, color='#b0b0b0', lw=1)


# ---------- c: hydraulic stimulation
ax = axes_px(110, 902, 1346, 1295)
ax.plot([flow_t[0]]+flow_t, [0]+flow_v, drawstyle='steps-post', color='black', lw=2, label='Flowrate', zorder=3)
ax.vlines(spike_t, spike_lo, spike_hi, color='black', lw=1.2, zorder=3)
ax.set_xlim(6, 42)
ax.set_ylim(0, 85)
style_time(ax, hour_ticks, hour_labels)
ax.set_ylabel('Injection flowrate [L/s]', fontsize=LAB, labelpad=5)
ax.set_title('GRT1 Hydraulic stimulation', fontsize=LAB, pad=6)
ax.legend(loc='upper left', fontsize=10.5)
ax2 = ax.twinx()
ax2.plot(dhp_t, dhp_p, color='#cfcfcf', lw=2, label='DHP')
ax2.plot(whp_t, whp_p, drawstyle='steps-post', color='#a0a0a0', lw=2, label='WHP')
ax2.set_ylim(0, 4.25)
ax2.set_yticks(np.arange(0, 4.5, 0.5))
ax2.tick_params(axis='y', labelsize=TICK)
ax2.set_ylabel('Pressure [MPa]', fontsize=LAB, labelpad=1)
ax2.legend(loc='upper right', fontsize=10.5)

# ---------- d: event rate, first stimulation
ax = axes_px(110, 1373, 1346, 1767)
ax.bar(rate_d_t, rate_d, width=0.19, color=BAR, label='Event rate')
ax.set_xlim(6, 42)
ax.set_ylim(0, 62)
style_time(ax, hour_ticks, hour_labels)
ax.set_ylabel('Events/15 min', fontsize=LAB, labelpad=5)
ax.set_xlabel('Date [UTC]', fontsize=LAB, labelpad=2)
ax.legend(loc='upper left', fontsize=10.5)
ax2 = ax.twinx()
md = np.array(mlv_d).T
ax2.scatter(md[0], md[1], s=11, facecolors='none', edgecolors='black', linewidths=1, label='Mlv')
ax2.set_ylim(-1.5, 1.6)
ax2.set_yticks(np.arange(-1.5, 2.0, 0.5))
ax2.tick_params(axis='y', labelsize=TICK)
ax2.set_ylabel('Mlv', fontsize=LAB, labelpad=1)
ax2.legend(loc='upper right', fontsize=10.5)

# ---------- e: event rate, second stimulation
ax = axes_px(112, 1887, 1350, 2322)
ax.bar(rate_e_t, rate_e, width=0.24, align='edge', color=BAR, label='Event rate')
ax.set_xlim(3, 9)
ax.set_ylim(0, 62)
style_time(ax, e_ticks, e_labels)
ax.set_ylabel('Events/15 min', fontsize=LAB, labelpad=6)
ax.set_xlabel('Date [UTC]', fontsize=LAB, labelpad=2)
ax.set_title('GRT1 Hydraulic stimulation', fontsize=LAB, pad=6)
ax.legend(loc='upper left', fontsize=10.5)
ax2 = ax.twinx()
me = np.array(mlv_e).T
ax2.scatter(me[0], me[1], s=9, facecolors='none', edgecolors='black', linewidths=0.9, label='Mlv')
ax2.set_ylim(-1.5, 1.6)
ax2.set_yticks(np.arange(-1.5, 2.0, 0.5))
ax2.tick_params(axis='y', labelsize=TICK)
ax2.set_ylabel('Mlv', fontsize=LAB, labelpad=1)
ax2.legend(loc='upper right', fontsize=10.5)

# panel letters
for letter, x, y in [('a', 14, 20), ('b', 705, 24), ('c', 43, 914), ('d', 41, 1392), ('e', 41, 1900)]:
    fig.text(x/W, 1-y/H, letter, ha='center', va='center', fontweight='bold', fontsize=26)

fig.savefig('out.png', dpi=100)
